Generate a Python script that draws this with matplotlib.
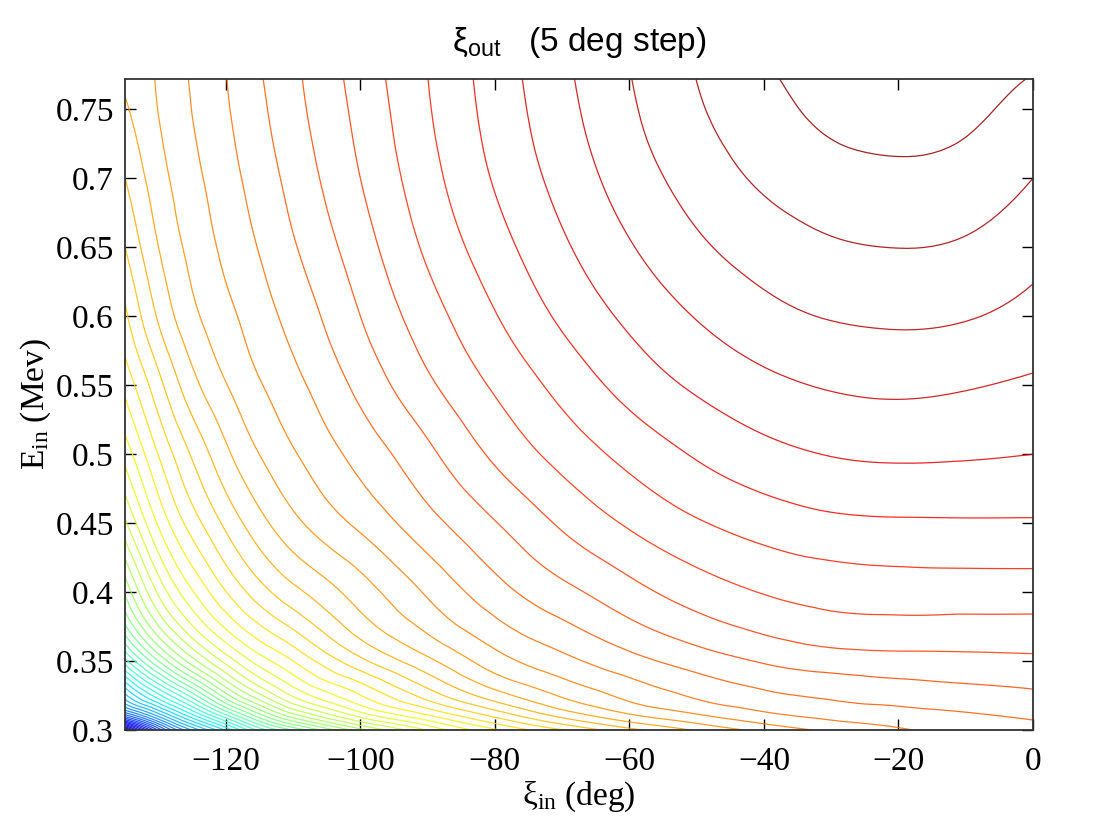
import numpy as np
import matplotlib
matplotlib.use("Agg")
import matplotlib.pyplot as plt
import matplotlib.tri as mtri
from matplotlib.ticker import FuncFormatter

# grid of the chart
xi_in = np.array([-135, -130, -125, -120, -115, -110, -100, -90, -80, -70, -60, -50, -40, -30, -20, -10, 0])
e_in = np.array([0.300, 0.310, 0.325, 0.350, 0.400, 0.450, 0.500, 0.550, 0.600, 0.650, 0.700, 0.740, 0.772])

# xi_out (deg), one row per e_in value
xi_out = np.array([
    [-285, -233.6, -204.36, -184.2, -163.3, -149.5, -126.8, -109.55, -95.86, -85.26, -76.52, -69.35, -63.32, -58.82, -55.6, -53.4, -51.5],
    [-228.9, -204.36, -182.47, -162.39, -142.97, -128.03, -108.82, -96.06, -84.19, -73.91, -66.2, -61, -56.6, -53.75, -52.15, -50.75, -49.4],
    [-196.44, -176.47, -157.66, -136.95, -121.22, -109.33, -95.18, -82.81, -72.28, -64.41, -58.56, -54.25, -51, -49.25, -48, -47, -46],
    [-167, -144.85, -127.1, -113.3, -102.65, -94.98, -81.32, -71.2, -62.19, -56.51, -51.75, -47.75, -44.5, -42.5, -41.75, -41.4, -41],
    [-134.05, -113.97, -100.5, -90.15, -82.19, -76.5, -67.5, -59.3, -52, -46.5, -41.75, -37.65, -34.75, -33.1, -32.55, -32.5, -32.5],
    [-115.93, -99.19, -87.56, -78.81, -71.7, -66.33, -58.85, -51.75, -45.25, -39.25, -34.35, -30.5, -27.8, -26.1, -25.6, -25.5, -25.5],
    [-103, -89.76, -79.36, -71.13, -64.95, -60.49, -53.2, -46.15, -39.05, -33.25, -28.45, -24.5, -21.55, -19.8, -19.25, -19.5, -20],
    [-93.45, -81.63, -71.7, -65.23, -60.39, -56.51, -48.6, -40.95, -34.3, -28.4, -23.2, -19.2, -16.3, -14.55, -13.95, -14.6, -15.75],
    [-86.09, -74.27, -66.27, -61.39, -57.22, -53.3, -45, -37.2, -30.3, -24.1, -18.95, -14.75, -11.6, -9.7, -9.1, -9.65, -11.65],
    [-80.03, -69.98, -63.48, -58.82, -54.7, -50.5, -42.25, -34.1, -27.05, -20.8, -15.4, -10.9, -7.65, -5.6, -4.95, -5.6, -8.25],
    [-75.03, -67.05, -61.45, -57.02, -52.7, -48.35, -40, -31.85, -24.55, -18.3, -12.6, -7.85, -4.2, -1.95, -1.15, -2, -5],
    [-71.53, -65.17, -60.13, -55.8, -51.35, -46.95, -38.8, -30.65, -23.35, -16.9, -11, -5.95, -2.1, 0.7, 1.75, 0.6, -2.5],
    [-68.85, -64.46, -59.44, -55.15, -50.5, -46.15, -38, -30.05, -22.75, -16.15, -10.2, -4.95, -0.8, 2.35, 4, 2.2, -0.25],
])

step = 5
x_ticks = [-120, -100, -80, -60, -40, -20, 0]
y_ticks = [0.3, 0.35, 0.4, 0.45, 0.5, 0.55, 0.6, 0.65, 0.7, 0.75]

# triangulate the grid (same diagonal in every cell), in a box scaled like the axes
ny, nx = xi_out.shape
xx, yy = np.meshgrid(xi_in, e_in)
xspan = xi_in[-1] - xi_in[0]
yspan = e_in[-1] - e_in[0]
aspect = 0.72
idx = np.arange(ny * nx).reshape(ny, nx)
a, b = idx[:-1, :-1].ravel(), idx[:-1, 1:].ravel()
c, d = idx[1:, 1:].ravel(), idx[1:, :-1].ravel()
triangles = np.concatenate([np.stack([a, b, c], 1), np.stack([a, c, d], 1)])
tri = mtri.Triangulation(((xx - xi_in[0]) / xspan).ravel(),
                         ((yy - e_in[0]) / yspan * aspect).ravel(), triangles)

# smooth it with matplotlib's own refiner, then go back to data units
refiner = mtri.UniformTriRefiner(tri)
tri_f, z_f = refiner.refine_field(xi_out.ravel(), subdiv=3)
tri_d = mtri.Triangulation(tri_f.x * xspan + xi_in[0], tri_f.y / aspect * yspan + e_in[0], tri_f.triangles)

levels = np.arange(xi_out.min() + step, xi_out.max(), step)

fig = plt.figure(figsize=(11.13, 8.23), dpi=100)
ax = fig.add_axes([0.1123, 0.113, 0.8158, 0.791])
ax.tricontour(tri_d, z_f, levels=levels, cmap="jet",
              norm=plt.Normalize(xi_out.min(), xi_out.max()), linewidths=0.9, alpha=0.85)

ax.set_xlim(xi_in[0], xi_in[-1])
ax.set_ylim(e_in[0], e_in[-1])
ax.set_xticks(x_ticks)
ax.set_yticks(y_ticks)
ax.yaxis.set_major_formatter(FuncFormatter(lambda v, p: "%g" % v))
ax.xaxis.set_major_formatter(FuncFormatter(lambda v, p: ("%g" % v).replace("-", "\u2212")))
ax.tick_params(axis="x", pad=12)
ax.tick_params(direction="in", top=True, right=True, length=8, width=1)
ax.tick_params(axis="y", pad=8)
for lab in ax.get_xticklabels() + ax.get_yticklabels():
    lab.set_fontfamily("Liberation Serif")
    lab.set_fontsize(24)
for s in ax.spines.values():
    s.set_linewidth(1.3)
    s.set_color("#333333")

ax.set_title(r"$\mathregular{\xi_{out}}$   (5 deg step)", fontfamily="Liberation Sans", fontsize=24, pad=20)
ax.set_xlabel(r"$\mathregular{\xi_{in}}$ (deg)", fontfamily="Liberation Serif", fontsize=24, labelpad=2)
ax.set_ylabel(r"$\mathregular{E_{in}}$ (Mev)", fontfamily="Liberation Serif", fontsize=24, labelpad=2)

fig.savefig("out.png", dpi=100, facecolor="white")
